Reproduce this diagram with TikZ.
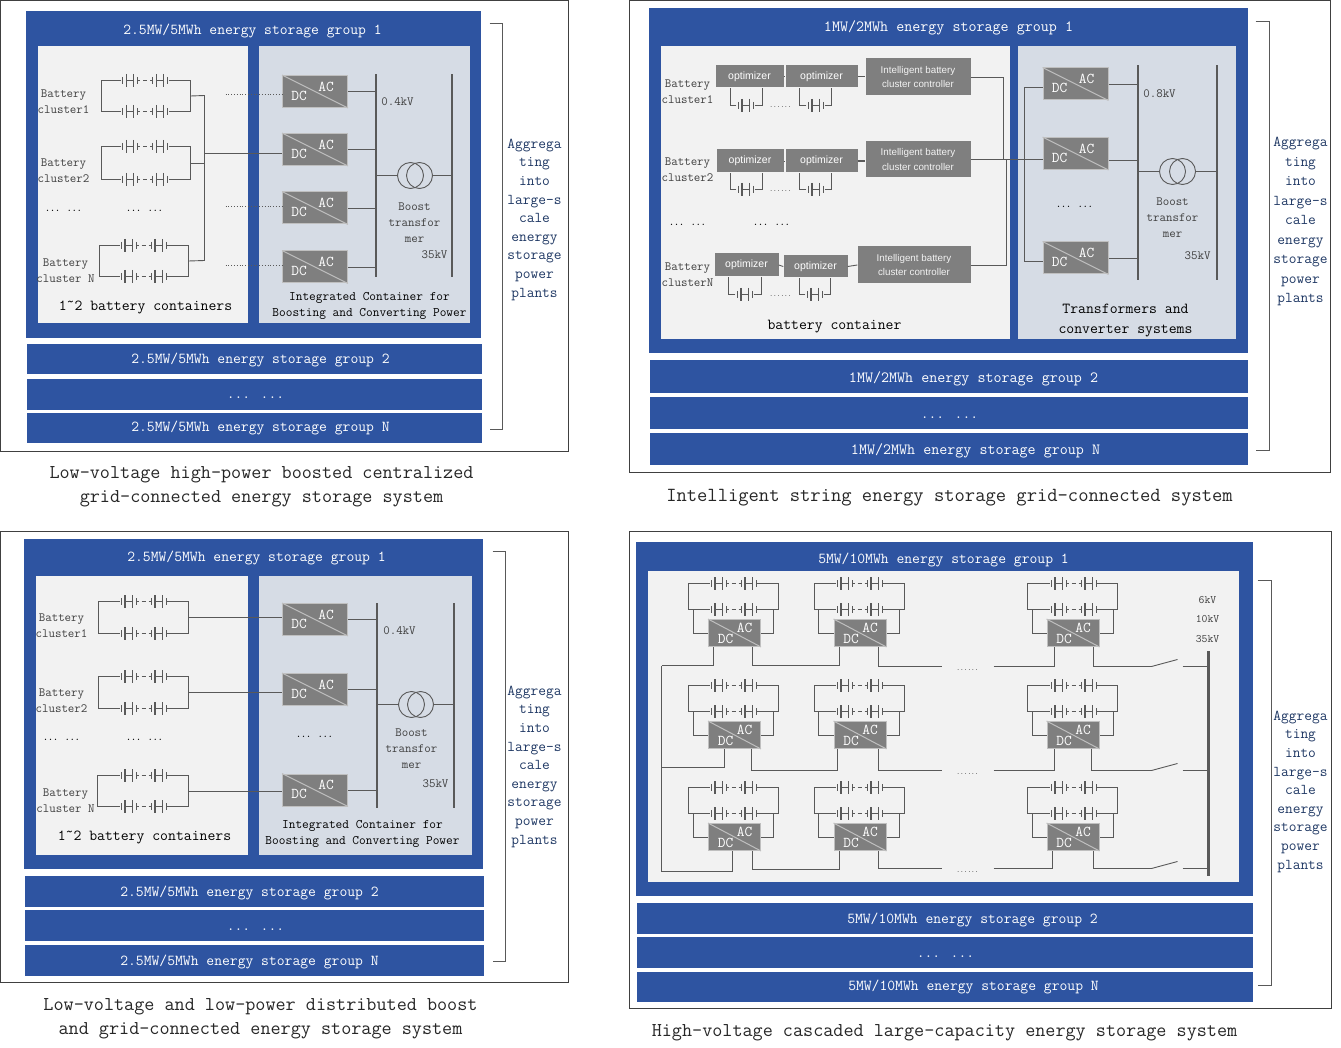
\documentclass[tikz,border=0pt]{standalone}
\usepackage{fontspec}
\setsansfont{Liberation Sans}
\usetikzlibrary{positioning,calc}
\definecolor{groupblue}{HTML}{2E54A1}
\definecolor{lightpanel}{HTML}{F2F2F2}
\definecolor{steelpanel}{HTML}{D6DCE5}
\definecolor{wiregray}{HTML}{595959}
\definecolor{boxgray}{HTML}{7F7F7F}
\definecolor{edgegray}{HTML}{BFBFBF}
\definecolor{sidenavy}{HTML}{1F3864}
\definecolor{txtgray}{HTML}{404040}
\definecolor{capgray}{HTML}{262626}
\tikzset{
  framebox/.style={draw=txtgray,fill=white,line width=0.8pt},
  bluebox/.style={fill=groupblue},
  leftbox/.style={fill=lightpanel},
  rightbox/.style={fill=steelpanel},
  wire/.style={draw=wiregray,line width=0.9pt},
  dotwire/.style={draw=wiregray,line width=0.8pt,dotted},
  bracketline/.style={draw=wiregray,line width=0.8pt},
  busbar/.style={fill=wiregray,inner sep=0pt,minimum width=2pt},
  trafo/.style={circle,draw=wiregray,line width=0.9pt,minimum size=26pt,inner sep=0pt},
  strnode/.style={inner sep=0pt,minimum width=47pt,minimum height=1pt},
  cellnode/.style={inner sep=0pt,minimum width=18pt,minimum height=1pt},
  convnode/.style={fill=boxgray,draw=edgegray,line width=1pt,inner sep=0pt,
                   minimum width=65pt,minimum height=32pt},
  convsmall/.style={fill=boxgray,draw=edgegray,line width=1pt,inner sep=0pt,
                    minimum width=52pt,minimum height=27pt},
  convdiag/.style={draw=edgegray,line width=1pt},
  convtxt/.style={inner sep=0pt,text=white,font=\ttfamily\fontsize{15}{16}\selectfont},
  bartxt/.style={inner sep=0pt,yshift=-1.2pt,text=white,font=\ttfamily\fontsize{15.2}{18}\selectfont},
  bartxtwide/.style={inner sep=0pt,yshift=-1.2pt,text=white,font=\ttfamily\fontsize{15.6}{18}\selectfont},
  sidetxt/.style={inner sep=0pt,yshift=-1.2pt,align=center,text=sidenavy,
                  font=\ttfamily\fontsize{15}{18.6}\selectfont},
  captxt/.style={inner sep=0pt,yshift=-2pt,align=center,text=capgray,
                 font=\ttfamily\fontsize{19.6}{24}\selectfont},
  smalltxt/.style={inner sep=0pt,yshift=-1pt,align=center,text=txtgray,
                   font=\ttfamily\fontsize{12.6}{16}\selectfont},
  midtxt/.style={inner sep=0pt,yshift=-1pt,align=center,text=black,
                 font=\ttfamily\fontsize{13}{16}\selectfont},
  bigtxt/.style={inner sep=0pt,yshift=-1.5pt,align=center,text=black,
                 font=\ttfamily\fontsize{15.3}{20}\selectfont},
  blackdots/.style={inner sep=0pt,text=black,font=\ttfamily\bfseries\fontsize{9.5}{12}\selectfont},
  dotstxt/.style={inner sep=0pt,text=black,font=\ttfamily\fontsize{7}{8}\selectfont},
  optnode/.style={fill=boxgray,inner sep=0pt,text=white,font=\sffamily\fontsize{10.5}{12}\selectfont},
  ctlnode/.style={fill=boxgray,inner sep=0pt,align=center,text=lightpanel,
                  font=\sffamily\fontsize{9.8}{14}\selectfont},
  pics/cellsym/.style={code={
    \draw[wire] (-7.5,-3.5) -- (-7.5,3.5);
    \draw[wire,line width=1.8pt] (-3.5,-6.5) -- (-3.5,6.5);
    \draw[wire] (-3.5,0) -- (3.5,0);
    \draw[wire] (3.5,-6.5) -- (3.5,6.5);
    \draw[wire] (7.5,-3.5) -- (7.5,3.5);
  }},
  pics/cellstr/.style={code={
    \pic at (-15,0) {cellsym};
    \pic at (15,0) {cellsym};
    \draw[wire] (-7.5,0) -- (-5,0);
    \draw[wire] (-2,0) -- (2,0);
    \draw[wire] (5,0) -- (7.5,0);
  }}
}
% name, centre x, left rail, right rail, top y, bottom y
\newcommand{\battpair}[6]{%
  \node[strnode] (#1t) at (#2,#5) {};
  \node[strnode] (#1b) at (#2,#6) {};
  \pic at (#1t) {cellstr};
  \pic at (#1b) {cellstr};
  \coordinate (#1l) at (#3,{(#5+#6)/2});
  \coordinate (#1r) at (#4,{(#5+#6)/2});
  \draw[wire] (#1t.west) -| (#1l) |- (#1b.west);
  \draw[wire] (#1t.east) -| (#1r) |- (#1b.east);
}
\newcommand{\convbox}[3]{%
  \node[convnode] (#1) at (#2,#3) {};
  \draw[convdiag] (#1.north west) -- (#1.south east);
  \node[convtxt] (#1ac) at ($(#1)+(11,-5)$) {AC};
  \node[convtxt] (#1dc) at ($(#1)+(-16,4)$) {DC};
}
\newcommand{\convtiny}[3]{%
  \node[convsmall] (#1) at (#2,#3) {};
  \draw[convdiag] (#1.north west) -- (#1.south east);
  \node[convtxt] (#1ac) at ($(#1)+(10,-5.5)$) {AC};
  \node[convtxt] (#1dc) at ($(#1)+(-9,5.5)$) {DC};
}
% optimizer, cell name, cell x, cell y, left x, right x
\newcommand{\optcell}[6]{%
  \node[cellnode] (#2) at (#3,#4) {};
  \pic at (#2) {cellsym};
  \draw[wire] (#2.west) -| (#5,0 |- #1.south);
  \draw[wire] (#2.east) -| (#6,0 |- #1.south);
}
\begin{document}
\begin{tikzpicture}[x=1pt,y=-1pt]
  \path[use as bounding box] (0.5,0.5) rectangle (1341.5,1048.5);

  % low-voltage high-power
  \draw[framebox] (1,1) rectangle (569,452);
  \fill[bluebox] (26,12) rectangle (481,339);
  \fill[leftbox] (38,47) rectangle (248,324);
  \fill[rightbox] (259,47) rectangle (470,324);
  \fill[bluebox] (27,345) rectangle (482,375);
  \fill[bluebox] (27,379) rectangle (482,410);
  \fill[bluebox] (27,413) rectangle (482,443);
  \node[bartxt] (aTitle) at (253,30) {2.5MW/5MWh energy storage group 1};
  \node[bartxt] (aBar2) at (261,359) {2.5MW/5MWh energy storage group 2};
  \node[bartxt] (aBar3) at (256,397) {... ...};
  \node[bartxt] (aBarN) at (261,427) {2.5MW/5MWh energy storage group N};
  \node[smalltxt] (aLab1) at (64,101) {Battery\\cluster1};
  \node[smalltxt] (aLab2) at (64,170) {Battery\\cluster2};
  \node[smalltxt] (aLabN) at (66,270) {Battery\\cluster N};
  \node[blackdots] (aDots1) at (64,211) {... ...};
  \node[blackdots] (aDots2) at (145,211) {... ...};
  \node[bigtxt] (aCont) at (146,306) {1˜2 battery containers};
  \node[midtxt] (aInteg) at (370,305) {Integrated Container for\\Boosting and Converting Power};
  \battpair{aP1}{145.5}{102}{191}{81}{112}
  \battpair{aP2}{145.5}{102}{191}{147}{180}
  \battpair{aPN}{144}{100}{189}{246}{277}
  \convbox{aConv1}{315.5}{92}
  \convbox{aConv2}{315.5}{150}
  \convbox{aConv3}{315.5}{208.5}
  \convbox{aConvN}{315.5}{267.5}
  \coordinate (aTrunk1) at (205,96);
  \coordinate (aTrunkN) at (205,261);
  \coordinate (aTap) at (205,154);
  \coordinate (aDot1) at (226,95);
  \coordinate (aDot3) at (226,207);
  \coordinate (aDotN) at (226,266);
  \draw[wire] (aP1r) -- (aTrunk1) -- (aTrunkN) -- (aPNr);
  \draw[wire] (aP2r) -- (aP2r -| aTrunk1);
  \draw[wire] (aTap) -- (aTap -| aConv2.west);
  \draw[dotwire] (aDot1) -- (aDot1 -| aConv1.west);
  \draw[dotwire] (aDot3) -- (aDot3 -| aConv3.west);
  \draw[dotwire] (aDotN) -- (aDotN -| aConvN.west);
  \node[busbar,minimum height=203pt] (aBus1) at (376,176.5) {};
  \node[busbar,minimum height=203pt] (aBus2) at (452,176.5) {};
  \foreach \n in {1,2,3,N}{
    \draw[wire] (aConv\n.east) -- (aConv\n.east -| aBus1);
  }
  \node[trafo] (aTr1) at (411,176) {};
  \node[trafo] (aTr2) at (420,176) {};
  \draw[wire] (aTr1.west -| aBus1) -- (aTr1.west);
  \draw[wire] (aTr2.east) -- (aTr2.east -| aBus2);
  \node[smalltxt] (aKv) at (398,101) {0.4kV};
  \node[smalltxt] (aBoost) at (415,222) {Boost\\transfor\\mer};
  \node[smalltxt] (aHv) at (435,254) {35kV};
  \draw[bracketline] (490,24) -- (503,24) -- (503,430) -- (490,430);
  \node[sidetxt] (aSide) at (535,219) {Aggrega\\ting\\into\\large-s\\cale\\energy\\storage\\power\\plants};
  \node[captxt] (aCap) at (262,485) {Low-voltage high-power boosted centralized\\grid-connected energy storage system};

  % intelligent string
  \draw[framebox] (630,1) rectangle (1331,473);
  \fill[bluebox] (649,9) rectangle (1248,354);
  \fill[leftbox] (661,47) rectangle (1010,340);
  \fill[rightbox] (1018,47) rectangle (1236,340);
  \fill[bluebox] (650,361) rectangle (1248,393);
  \fill[bluebox] (650,397) rectangle (1248,429);
  \fill[bluebox] (650,433) rectangle (1248,465);
  \node[bartxtwide] (bTitle) at (949,27) {1MW/2MWh energy storage group 1};
  \node[bartxtwide] (bBar2) at (974,378) {1MW/2MWh energy storage group 2};
  \node[bartxt] (bBar3) at (950,417) {... ...};
  \node[bartxtwide] (bBarN) at (976,450) {1MW/2MWh energy storage group N};
  \node[smalltxt] (bLab1) at (688,91) {Battery\\cluster1};
  \node[smalltxt] (bLab2) at (688,169) {Battery\\cluster2};
  \node[smalltxt] (bLabN) at (688,274) {Battery\\clusterN};
  \node[blackdots] (bDots1) at (688,225) {... ...};
  \node[blackdots] (bDots2) at (772,225) {... ...};
  \node[bigtxt] (bCont) at (835,326) {battery container};
  \node[bigtxt] (bTrans) at (1126,320) {Transformers and\\converter systems};
  \foreach \nm/\cx/\cy/\w/\h in {bOpt11/750/77/68/22, bOpt12/822/77/72/22,
                                 bOpt21/750.5/161.5/67/23, bOpt22/822/161.5/72/23,
                                 bOpt31/747/265.5/64/23, bOpt32/816/267/64/22}{
    \node[optnode,minimum width=\w pt,minimum height=\h pt] (\nm) at (\cx,\cy) {optimizer};
  }
  \foreach \nm/\cx/\cy/\w/\h in {bCtl1/918.5/77.5/105/37, bCtl2/918.5/160/105/36,
                                 bCtl3/914.5/265.5/113/37}{
    \node[ctlnode,minimum width=\w pt,minimum height=\h pt] (\nm) at (\cx,\cy)
      {Intelligent battery\\cluster controller};
  }
  \draw[wire] (bOpt11.east) -- (bOpt12.west);
  \draw[wire] (bOpt21.east) -- (bOpt22.west);
  \draw[wire] (bOpt31.east) -- (bOpt32.west);
  \draw[wire] (bOpt12.east) -- (bOpt12.east -| bCtl1.west);
  \draw[wire,line width=1.6pt] (bOpt22.east) -- (bOpt22.east -| bCtl2.west);
  \draw[wire] (bOpt32.east) -- (bCtl3.west);
  \optcell{bOpt11}{bCell11}{746}{106}{731}{763}
  \optcell{bOpt12}{bCell12}{816}{106}{800}{832}
  \optcell{bOpt21}{bCell21}{746}{190}{731}{763}
  \optcell{bOpt22}{bCell22}{816}{190}{800}{832}
  \optcell{bOpt31}{bCell31}{745}{295}{729}{762}
  \optcell{bOpt32}{bCell32}{815}{295}{800}{831}
  \node[dotstxt] (bDot1) at (781,108) {......};
  \node[dotstxt] (bDot2) at (781,192) {......};
  \node[dotstxt] (bDot3) at (781,297) {......};
  \convbox{bConv1}{1076}{84.5}
  \convbox{bConv2}{1076}{154}
  \convbox{bConv3}{1076}{258.5}
  \coordinate (bJoin1) at (1004,160);
  \coordinate (bJoin3) at (1007,160);
  \coordinate (bRail) at (1025,160);
  \draw[wire] (bCtl1.east) -| (bJoin1);
  \draw[wire] (bCtl3.east) -| (bJoin3);
  \draw[wire] (bCtl2.east) -- (bCtl2.east -| bConv2.west);
  \draw[wire] ([yshift=-3.5pt]bConv1.west) -| (bRail) |- ([yshift=-3.5pt]bConv3.west);
  \node[busbar,minimum height=215pt] (bBus1) at (1138,173.5) {};
  \node[busbar,minimum height=215pt] (bBus2) at (1217,173.5) {};
  \draw[wire] (bConv1.east) -- (bConv1.east -| bBus1);
  \draw[wire] ([yshift=-7pt]bConv2.east) -- ([yshift=-7pt]bConv2.east -| bBus1);
  \draw[wire] (bConv3.east) -- (bConv3.east -| bBus1);
  \node[trafo] (bTr1) at (1173,172) {};
  \node[trafo] (bTr2) at (1183,172) {};
  \draw[wire] (bTr1.west -| bBus1) -- (bTr1.west);
  \draw[wire] (bTr2.east) -- (bTr2.east -| bBus2);
  \node[smalltxt] (bKv) at (1160,93) {0.8kV};
  \node[smalltxt] (bBoost) at (1173,217) {Boost\\transfor\\mer};
  \node[smalltxt] (bHv) at (1198,255) {35kV};
  \node[blackdots] (bDots3) at (1075,207) {... ...};
  \draw[bracketline] (1256,22) -- (1270,22) -- (1270,451) -- (1256,451);
  \node[sidetxt,font=\ttfamily\fontsize{15}{19.5}\selectfont] (bSide) at (1301,221)
    {Aggrega\\ting\\into\\large-s\\cale\\energy\\storage\\power\\plants};
  \node[captxt,font=\ttfamily\fontsize{20}{24}\selectfont] (bCap) at (950,496)
    {Intelligent string energy storage grid-connected system};

  % low-voltage low-power
  \draw[framebox] (1,532) rectangle (569,983);
  \fill[bluebox] (24,539) rectangle (483,869);
  \fill[leftbox] (36,576) rectangle (248,855);
  \fill[rightbox] (259,576) rectangle (472,855);
  \fill[bluebox] (25,876) rectangle (484,907);
  \fill[bluebox] (25,910) rectangle (484,941);
  \fill[bluebox] (25,945) rectangle (484,976);
  \node[bartxt] (cTitle) at (257,557) {2.5MW/5MWh energy storage group 1};
  \node[bartxt] (cBar2) at (250,892) {2.5MW/5MWh energy storage group 2};
  \node[bartxt] (cBar3) at (256,929) {... ...};
  \node[bartxt] (cBarN) at (250,961) {2.5MW/5MWh energy storage group N};
  \node[smalltxt] (cLab1) at (62,625) {Battery\\cluster1};
  \node[smalltxt] (cLab2) at (62,700) {Battery\\cluster2};
  \node[smalltxt] (cLabN) at (66,800) {Battery\\cluster N};
  \node[blackdots] (cDots1) at (62,740) {... ...};
  \node[blackdots] (cDots2) at (145,740) {... ...};
  \node[bigtxt] (cCont) at (145,836) {1˜2 battery containers};
  \node[midtxt] (cInteg) at (363,833) {Integrated Container for\\Boosting and Converting Power};
  \battpair{cP1}{144}{99}{189}{602}{634}
  \battpair{cP2}{144}{99}{189}{677}{709}
  \battpair{cPN}{144}{98}{189}{776}{807}
  \convbox{cConv1}{315.5}{620}
  \convbox{cConv2}{315.5}{690}
  \convbox{cConvN}{315.5}{790.5}
  \draw[wire] (cP1r) -- (cP1r -| cConv1.west);
  \draw[wire] (cP2r) -- (cP2r -| cConv2.west);
  \draw[wire] (cPNr) -- (cPNr -| cConvN.west);
  \node[busbar,minimum height=205pt] (cBus1) at (377,705.5) {};
  \node[busbar,minimum height=205pt] (cBus2) at (454,705.5) {};
  \foreach \n in {1,2,N}{
    \draw[wire] (cConv\n.east) -- (cConv\n.east -| cBus1);
  }
  \node[trafo] (cTr1) at (412,705) {};
  \node[trafo] (cTr2) at (421,705) {};
  \draw[wire] (cTr1.west -| cBus1) -- (cTr1.west);
  \draw[wire] (cTr2.east) -- (cTr2.east -| cBus2);
  \node[smalltxt] (cKv) at (400,630) {0.4kV};
  \node[smalltxt] (cBoost) at (412,748) {Boost\\transfor\\mer};
  \node[smalltxt] (cHv) at (436,783) {35kV};
  \node[blackdots] (cDots3) at (315,737) {... ...};
  \draw[bracketline] (493,552) -- (506,552) -- (506,962) -- (493,962);
  \node[sidetxt] (cSide) at (535,766) {Aggrega\\ting\\into\\large-s\\cale\\energy\\storage\\power\\plants};
  \node[captxt] (cCap) at (261,1017) {Low-voltage and low-power distributed boost\\and grid-connected energy storage system};

  % high-voltage cascaded
  \draw[framebox] (630,532) rectangle (1332,1009);
  \fill[bluebox] (636,542) rectangle (1253,896);
  \fill[leftbox] (648,571) rectangle (1239,882);
  \fill[bluebox] (637,903) rectangle (1253,934);
  \fill[bluebox] (637,937) rectangle (1253,968);
  \fill[bluebox] (637,972) rectangle (1253,1002);
  \node[bartxt] (dTitle) at (944,559) {5MW/10MWh energy storage group 1};
  \node[bartxt] (dBar2) at (973,919) {5MW/10MWh energy storage group 2};
  \node[bartxt] (dBar3) at (946,956) {... ...};
  \node[bartxt] (dBarN) at (974,986) {5MW/10MWh energy storage group N};
  \foreach \col/\sx/\lx/\rx/\ilx/\irx/\bx in {1/734/689/779/694/774/735,
                                              2/860/815/905/819/900/860.5,
                                              3/1074/1028/1118/1033/1114/1073.5}{
    \foreach \row/\ty in {1/584, 2/686, 3/788}{
      \battpair{dP\col\row}{\sx}{\lx}{\rx}{\ty}{\ty+26}
      \convtiny{dConv\col\row}{\bx}{\ty+49.5}
      \draw[wire] (\ilx,\ty+26) |- (dConv\col\row.west);
      \draw[wire] (\irx,\ty+26) |- (dConv\col\row.east);
    }
  }
  \coordinate (dTrunk1) at (662,666);
  \coordinate (dTrunk2) at (662,768);
  \coordinate (dTrunk3) at (662,872);
  \draw[wire] (dTrunk1) -- (dTrunk3);
  \draw[wire] (714,0 |- dConv11.south) |- (dTrunk1);
  \draw[wire] (725,0 |- dConv12.south) |- (dTrunk2);
  \draw[wire] (733,0 |- dConv13.south) |- (dTrunk3);
  \foreach \row/\xa/\xb/\ya/\yb/\xc/\xd in {1/753/840/666/667/1055/1094,
                                            2/752/838/771/771/1055/1092,
                                            3/753/840/870/869/1053/1094}{
    \draw[wire] (\xa,0 |- dConv1\row.south) |- (\xb,\ya) -- (\xb,0 |- dConv2\row.south);
    \coordinate (dOut\row) at (942,\yb);
    \draw[wire] (879,0 |- dConv2\row.south) |- (dOut\row);
    \coordinate (dIn\row) at (994,\yb);
    \draw[wire] (dIn\row) -| (\xc,0 |- dConv3\row.south);
    \coordinate (dSwA\row) at (1152,\yb);
    \coordinate (dSwB\row) at (1178,\yb-7);
    \coordinate (dSwC\row) at (1183,\yb);
    \draw[wire] (\xd,0 |- dConv3\row.south) |- (dSwA\row) -- (dSwB\row);
    \node[dotstxt] (dDots\row) at (968,\yb+4) {......};
  }
  \node[busbar,minimum height=225pt,minimum width=2.5pt] (dBus) at (1209,763.5) {};
  \foreach \row in {1,2,3}{
    \draw[wire] (dSwC\row) -- (dSwC\row -| dBus);
  }
  \node[smalltxt,font=\ttfamily\fontsize{11.4}{19.5}\selectfont] (dKv) at (1208,619) {6kV\\10kV\\35kV};
  \draw[bracketline] (1258,581) -- (1272,581) -- (1272,986) -- (1258,986);
  \node[sidetxt] (dSide) at (1301,791) {Aggrega\\ting\\into\\large-s\\cale\\energy\\storage\\power\\plants};
  \node[captxt] (dCap) at (945,1031) {High-voltage cascaded large-capacity energy storage system};
\end{tikzpicture}
\end{document}
